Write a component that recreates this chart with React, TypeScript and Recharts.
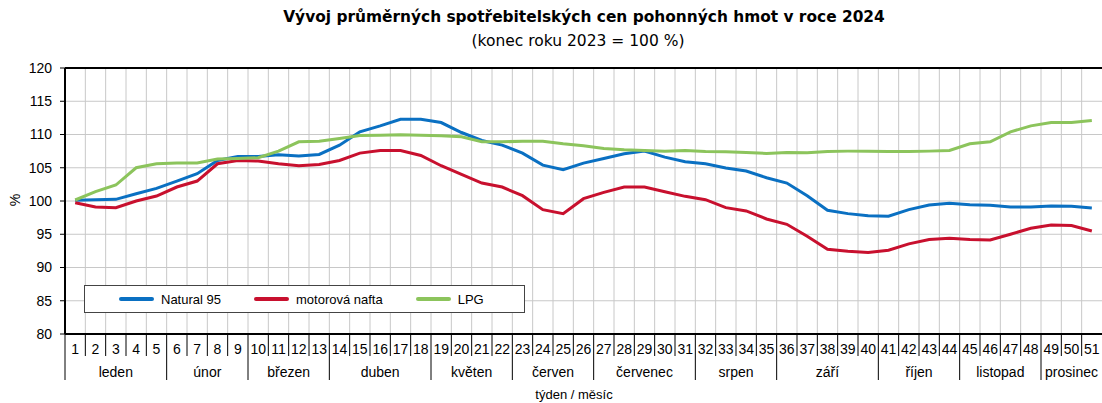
import { ComposedChart, Line, XAxis, YAxis, CartesianGrid, ReferenceLine, Legend } from 'recharts';

const weeks = [
  1, 2, 3, 4, 5, 6, 7, 8, 9, 10, 11, 12, 13, 14, 15, 16, 17, 18, 19, 20, 21, 22, 23, 24, 25, 26,
  27, 28, 29, 30, 31, 32, 33, 34, 35, 36, 37, 38, 39, 40, 41, 42, 43, 44, 45, 46, 47, 48, 49, 50, 51,
];

const natural95 = [
  100.1, 100.2, 100.25, 101.1, 101.9, 103.0, 104.1, 106.1, 106.7, 106.7, 106.95, 106.75, 107.0,
  108.4, 110.4, 111.3, 112.3, 112.3, 111.8, 110.3, 109.1, 108.4, 107.2, 105.4, 104.7, 105.7,
  106.4, 107.1, 107.5, 106.6, 105.9, 105.6, 104.95, 104.5, 103.5, 102.7, 100.8, 98.6, 98.1, 97.8,
  97.7, 98.7, 99.4, 99.65, 99.45, 99.35, 99.1, 99.1, 99.25, 99.2, 98.95,
];

const nafta = [
  99.75, 99.1, 99.0, 100.0, 100.75, 102.1, 103.0, 105.6, 106.1, 106.0, 105.6, 105.3, 105.5,
  106.1, 107.2, 107.6, 107.6, 106.85, 105.3, 104.0, 102.7, 102.1, 100.8, 98.7, 98.1, 100.35,
  101.3, 102.1, 102.1, 101.4, 100.7, 100.2, 99.0, 98.5, 97.3, 96.5, 94.7, 92.75, 92.45, 92.25,
  92.6, 93.55, 94.2, 94.4, 94.2, 94.15, 95.0, 95.9, 96.4, 96.3, 95.5,
];

const lpg = [
  100.15, 101.4, 102.4, 105.0, 105.6, 105.7, 105.7, 106.3, 106.4, 106.5, 107.5, 108.9, 109.0,
  109.4, 109.85, 109.9, 109.95, 109.9, 109.8, 109.65, 108.9, 108.9, 109.0, 109.0, 108.6, 108.3,
  107.9, 107.7, 107.6, 107.5, 107.6, 107.45, 107.4, 107.3, 107.15, 107.3, 107.25, 107.45, 107.5, 107.5,
  107.45, 107.45, 107.5, 107.6, 108.6, 108.9, 110.4, 111.3, 111.8, 111.8, 112.1,
];

const months = ['leden', 'únor', 'březen', 'duben', 'květen', 'červen', 'červenec', 'srpen', 'září', 'říjen', 'listopad', 'prosinec'];
const monthWeeks = [5, 4, 4, 5, 4, 4, 5, 4, 5, 4, 4, 3];

const yTicks = [80, 85, 90, 95, 100, 105, 110, 115, 120];

const series = [
  { key: 'natural95', name: 'Natural 95', color: '#0a70c2' },
  { key: 'nafta', name: 'motorová nafta', color: '#c8102e' },
  { key: 'lpg', name: 'LPG', color: '#8cc45c' },
];

const data = weeks.map((w, i) => ({ week: w, natural95: natural95[i], nafta: nafta[i], lpg: lpg[i] }));

// first week of each month -> month index
const monthStart: Record<number, number> = {};
let acc = 1;
monthWeeks.forEach((n, i) => {
  monthStart[acc] = i;
  acc += n;
});

const W = 1102;
const H = 403;
const Y_AXIS_W = 65;
const TOP = 68;
const X_AXIS_H = 69;
const BAND = (W - Y_AXIS_W) / weeks.length;
const FONT = '"Liberation Sans", Arial, sans-serif';
const TITLE_FONT = '"DejaVu Sans", Verdana, sans-serif';

function WeekTick(props: any) {
  const { x, y, payload } = props;
  const week = payload.value as number;
  const left = x - BAND / 2;
  const m = monthStart[week];
  return (
    <g>
      <line x1={left} x2={left} y1={y} y2={y + (m === undefined ? 22 : 46)} stroke="#000" strokeWidth={1} />
      <text x={x} y={y + 20} textAnchor="middle" fontSize={14} fill="#000" fontFamily={FONT}>
        {week}
      </text>
      {m !== undefined && (
        <text
          x={left + (monthWeeks[m] * BAND) / 2}
          y={y + 43}
          textAnchor="middle"
          fontSize={14}
          fill="#000"
          fontFamily={FONT}
        >
          {months[m]}
        </text>
      )}
    </g>
  );
}

function LegendBox() {
  return (
    <div
      style={{
        boxSizing: 'border-box',
        width: 441,
        height: 28,
        border: '1px solid #444',
        background: '#fff',
        display: 'flex',
        alignItems: 'center',
        paddingLeft: 34,
        gap: 33,
        fontFamily: FONT,
        fontSize: 13,
        color: '#000',
      }}
    >
      {series.map((s) => (
        <div key={s.key} style={{ display: 'flex', alignItems: 'center' }}>
          <span style={{ display: 'inline-block', width: 35, height: 4, borderRadius: 2, background: s.color, marginRight: 7 }} />
          <span>{s.name}</span>
        </div>
      ))}
    </div>
  );
}

export default function App() {
  return (
    <div style={{ position: 'absolute', left: 0, top: 0, width: W, height: H, background: '#fff', fontFamily: FONT }}>
      <div style={{ position: 'absolute', left: 66, width: 1036, top: 8, textAlign: 'center', fontFamily: TITLE_FONT, fontWeight: 'bold', fontSize: 15.4, lineHeight: '19px' }}>
        Vývoj průměrných spotřebitelských cen pohonných hmot v roce 2024
      </div>
      <div style={{ position: 'absolute', left: 60, width: 1036, top: 32, textAlign: 'center', fontFamily: TITLE_FONT, fontSize: 15.5, lineHeight: '19px' }}>
        (konec roku 2023 = 100 %)
      </div>
      <div
        style={{
          position: 'absolute',
          left: 9,
          top: 192,
          fontSize: 14,
          transform: 'rotate(-90deg)',
          transformOrigin: 'center',
        }}
      >
        %
      </div>
      <div style={{ position: 'absolute', left: 56, width: 1036, top: 387, textAlign: 'center', fontSize: 13, lineHeight: '15px' }}>
        týden / měsíc
      </div>
      <ComposedChart width={W} height={H} data={data} margin={{ top: TOP, right: 0, bottom: 0, left: 0 }}>
        <CartesianGrid
          stroke="#c8c8c8"
          strokeWidth={1}
          horizontal
          vertical
          verticalCoordinatesGenerator={({ offset }: any) =>
            weeks.map((_, i) => offset.left + (offset.width * i) / weeks.length)
          }
        />
        <XAxis
          dataKey="week"
          interval={0}
          height={X_AXIS_H}
          padding={{ left: BAND / 2, right: BAND / 2 }}
          tickLine={false}
          tickSize={0}
          tickMargin={0}
          axisLine={{ stroke: '#000', strokeWidth: 2 }}
          tick={<WeekTick />}
        />
        <YAxis
          width={Y_AXIS_W}
          domain={[80, 120]}
          ticks={yTicks}
          interval={0}
          tickSize={5}
          tickMargin={8}
          axisLine={{ stroke: '#000', strokeWidth: 2 }}
          tickLine={{ stroke: '#000' }}
          tick={{ fontSize: 14, fill: '#000', fontFamily: FONT }}
        />
        <ReferenceLine y={120} stroke="#000" strokeWidth={2} />
        {series.map((s) => (
          <Line
            key={s.key}
            type="linear"
            dataKey={s.key}
            name={s.name}
            stroke={s.color}
            strokeWidth={3}
            dot={false}
            isAnimationActive={false}
          />
        ))}
        <Legend
          layout="horizontal"
          verticalAlign="middle"
          align="center"
          content={<LegendBox />}
          wrapperStyle={{ left: 84, top: 285, width: 441, height: 28 }}
        />
      </ComposedChart>
    </div>
  );
}
